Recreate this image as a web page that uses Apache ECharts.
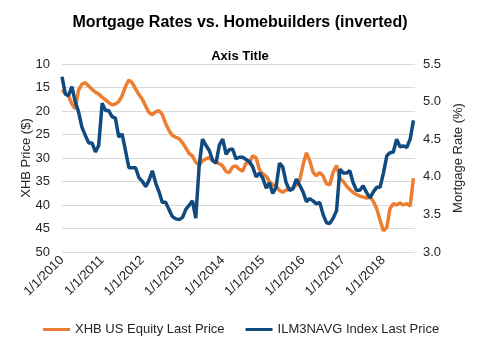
<!DOCTYPE html>
<html>
<head>
<meta charset="utf-8">
<script src="https://cdn.jsdelivr.net/npm/echarts@6/dist/echarts.min.js"></script>
<style>
  html, body { margin: 0; padding: 0; background: #fff; }
  #chart { width: 480px; height: 347px; }
</style>
</head>
<body>
<div id="chart"></div>
<script>
// Monthly observations, starting January 2010
const startYear = 2010;
const startMonth = 0;

// XHB US Equity last price ($)
const xhbPrice = [
  15.5, 16.3, 16.8, 18.5, 19.5, 15.5, 14.3, 14.0, 14.7, 15.4, 16.0, 16.4,
  17.1, 17.6, 18.2, 18.7, 18.5, 18.0, 16.8, 14.8, 13.4, 14.0, 15.3, 16.5,
  17.5, 19.0, 20.3, 20.8, 20.2, 19.9, 20.8, 22.7, 24.2, 25.2, 25.6, 25.9,
  26.8, 27.9, 29.0, 29.6, 30.9, 31.5, 30.6, 30.2, 29.9, 30.6, 30.9, 31.2,
  31.7, 32.9, 33.1, 31.9, 31.7, 32.4, 32.8, 31.1, 31.0, 29.5, 30.0, 32.5,
  33.4, 33.9, 35.0, 35.7, 36.0, 36.9, 37.3, 36.8, 36.6, 36.4, 35.8, 34.8,
  31.5, 28.9, 30.5, 33.0, 33.8, 33.1, 33.8, 35.5, 35.7, 33.0, 31.6, 34.3,
  35.0, 36.0, 36.7, 37.3, 37.8, 38.1, 38.3, 38.5, 38.3, 39.2, 40.8, 43.2,
  45.5, 44.8, 40.8, 39.7, 40.0, 39.6, 40.0, 39.7, 40.2, 34.3
];

// ILM3NAVG index last price (mortgage rate, %)
const mortgageRate = [
  5.33, 5.10, 5.08, 5.20, 5.00, 4.86, 4.66, 4.55, 4.45, 4.45, 4.33, 4.42,
  4.98, 4.88, 4.88, 4.80, 4.78, 4.53, 4.57, 4.35, 4.12, 4.12, 4.12, 3.99,
  3.94, 3.87, 3.95, 4.08, 3.92, 3.80, 3.66, 3.66, 3.56, 3.47, 3.44, 3.43,
  3.46, 3.57, 3.62, 3.68, 3.45, 4.15, 4.50, 4.42, 4.35, 4.22, 4.18, 4.42,
  4.50, 4.30, 4.36, 4.37, 4.24, 4.26, 4.26, 4.23, 4.20, 4.13, 4.00, 4.05,
  3.98, 3.85, 3.92, 3.78, 3.86, 4.18, 4.13, 3.92, 3.82, 3.84, 3.97, 3.89,
  3.80, 3.67, 3.71, 3.68, 3.64, 3.66, 3.50, 3.39, 3.38, 3.45, 3.55, 4.10,
  4.05, 4.05, 4.08, 3.92, 3.82, 3.82, 3.88, 3.79, 3.72, 3.80, 3.86, 3.86,
  4.05, 4.28, 4.32, 4.33, 4.50, 4.40, 4.41, 4.39, 4.50, 4.75
];

const priceTicks = { min: 10, max: 50, interval: 5 };
const rateTicks = { min: 3.0, max: 5.5, interval: 0.5 };

const dateAt = i => new Date(startYear, startMonth + i, 1);
const xhbSeries = xhbPrice.map((v, i) => [dateAt(i), v]);
const rateSeries = mortgageRate.map((v, i) => [dateAt(i), v]);

const ORANGE = '#ED7D31';
const NAVY = '#114A7E';
const TEXT = '#262626';
const FONT = '"Liberation Sans", Arial, sans-serif';
const YEAR_MS = 365 * 24 * 3600 * 1000;

const chart = echarts.init(document.getElementById('chart'), null, { renderer: 'canvas' });

chart.setOption({
  animation: false,
  textStyle: { fontFamily: FONT },
  title: [
    {
      text: 'Mortgage Rates vs. Homebuilders (inverted)',
      left: 'center',
      top: 10,
      textStyle: { fontSize: 16, fontWeight: 'bold', color: '#000', fontFamily: FONT }
    },
    {
      text: 'Axis Title',
      left: 'center',
      top: 45,
      textStyle: { fontSize: 13, fontWeight: 'bold', color: '#000', fontFamily: FONT }
    }
  ],
  legend: {
    left: 38,
    top: 318,
    itemGap: 21,
    itemWidth: 27,
    itemHeight: 3,
    icon: 'rect',
    textStyle: { fontSize: 13, color: TEXT, fontFamily: FONT },
    data: ['XHB US Equity Last Price', 'ILM3NAVG Index Last Price']
  },
  grid: { left: 62, right: 65, top: 64, bottom: 95, containLabel: false },
  xAxis: {
    type: 'time',
    min: new Date(2010, 0, 1),
    max: new Date(2018, 9, 15),
    minInterval: YEAR_MS,
    maxInterval: YEAR_MS,
    axisLine: { show: false },
    axisTick: { show: false },
    splitLine: { show: false },
    axisLabel: {
      rotate: 45,
      margin: 6,
      fontSize: 13,
      color: TEXT,
      fontFamily: FONT,
      showMinLabel: true,
      hideOverlap: false,
      formatter: v => {
        const d = new Date(v);
        return (d.getMonth() + 1) + '/' + d.getDate() + '/' + d.getFullYear();
      }
    }
  },
  yAxis: [
    {
      type: 'value',
      inverse: true,
      min: priceTicks.min,
      max: priceTicks.max,
      interval: priceTicks.interval,
      name: 'XHB Price ($)',
      nameLocation: 'middle',
      nameGap: 29,
      nameMoveOverlap: false,
      nameTextStyle: { fontSize: 13, color: TEXT, fontFamily: FONT },
      axisLine: { show: false },
      axisTick: { show: false },
      axisLabel: { margin: 12, fontSize: 13, color: TEXT, fontFamily: FONT },
      splitLine: { lineStyle: { color: '#D9D9D9', width: 1 } }
    },
    {
      type: 'value',
      position: 'right',
      min: rateTicks.min,
      max: rateTicks.max,
      interval: rateTicks.interval,
      name: 'Mortgage Rate (%)',
      nameLocation: 'middle',
      nameGap: 37,
      nameRotate: 90,
      nameMoveOverlap: false,
      nameTextStyle: { fontSize: 13, color: TEXT, fontFamily: FONT },
      axisLine: { show: false },
      axisTick: { show: false },
      axisLabel: {
        margin: 8,
        fontSize: 13,
        color: TEXT,
        fontFamily: FONT,
        formatter: v => v.toFixed(1)
      },
      splitLine: { show: false }
    }
  ],
  series: [
    {
      name: 'XHB US Equity Last Price',
      type: 'line',
      yAxisIndex: 0,
      data: xhbSeries,
      showSymbol: false,
      symbol: 'none',
      lineStyle: { color: ORANGE, width: 3.5 },
      itemStyle: { color: ORANGE }
    },
    {
      name: 'ILM3NAVG Index Last Price',
      type: 'line',
      yAxisIndex: 1,
      data: rateSeries,
      showSymbol: false,
      symbol: 'none',
      lineStyle: { color: NAVY, width: 3.5 },
      itemStyle: { color: NAVY }
    }
  ]
});
</script>
</body>
</html>
